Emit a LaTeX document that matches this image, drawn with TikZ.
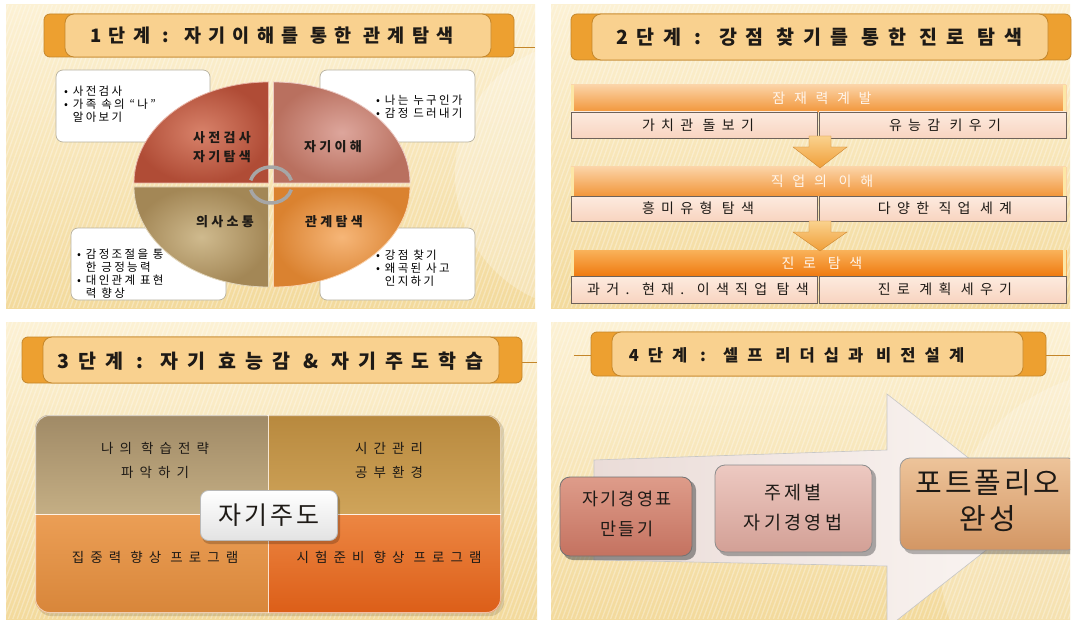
\documentclass[tikz,border=0pt]{standalone}
\usepackage{fontspec}
\setmainfont{Noto Sans CJK KR}
\usetikzlibrary{calc}
\definecolor{bgA}{HTML}{FCF1D4}
\definecolor{bgB}{HTML}{F3DA9C}
\definecolor{tabor}{HTML}{EDA030}
\definecolor{tabbd}{HTML}{C4862A}
\definecolor{ttlin}{HTML}{F9D18F}
\definecolor{txt}{HTML}{1E1A16}
\definecolor{notebd}{HTML}{B8B2A0}
\definecolor{qTLa}{HTML}{D8826A}\definecolor{qTLb}{HTML}{B04C36}
\definecolor{qTRa}{HTML}{DDA69C}\definecolor{qTRb}{HTML}{B9705F}
\definecolor{qBLa}{HTML}{CFBA8E}\definecolor{qBLb}{HTML}{A38756}
\definecolor{qBRa}{HTML}{F6B678}\definecolor{qBRb}{HTML}{DA8230}
\definecolor{hdA}{HTML}{FBD3A6}\definecolor{hdB}{HTML}{F2963A}
\definecolor{hdCa}{HTML}{F9B25A}\definecolor{hdCb}{HTML}{EF7A10}
\definecolor{hdedge}{HTML}{FCE7A6}
\definecolor{cellA}{HTML}{FDEBDF}\definecolor{cellB}{HTML}{F8D4C0}
\definecolor{cellbd}{HTML}{6E625A}
\definecolor{arA}{HTML}{FAD28E}\definecolor{arB}{HTML}{F09E38}
\definecolor{pTLa}{HTML}{A08A66}\definecolor{pTLb}{HTML}{C4AE84}
\definecolor{pTRa}{HTML}{B8893E}\definecolor{pTRb}{HTML}{CFA45A}
\definecolor{pBLa}{HTML}{EB9E55}\definecolor{pBLb}{HTML}{D8863A}
\definecolor{pBRa}{HTML}{EC8642}\definecolor{pBRb}{HTML}{DC5E18}
\definecolor{bxAa}{HTML}{DE9C8A}\definecolor{bxAb}{HTML}{C47260}
\definecolor{bxBa}{HTML}{EDC9C1}\definecolor{bxBb}{HTML}{D3A096}
\definecolor{bxCa}{HTML}{EDC49A}\definecolor{bxCb}{HTML}{D39664}
\definecolor{arwA}{HTML}{EADCD8}\definecolor{arwB}{HTML}{FBF6F3}

\newcommand{\panelbg}[4]{%
  \begin{scope}
    \clip (#1,#2) rectangle (#3,#4);
    \shade[top color=bgA, bottom color=bgB] (#1,#2) rectangle (#3,#4);
    \foreach \i in {0,...,190} {\draw[white, opacity=0.3, line width=1.3pt] (#1-200+\i*4.4,#4) -- ++(110,#2-#4);}
  \end{scope}}
\newcommand{\ttlbar}[4]{%
  \draw[fill=tabor,draw=tabbd,line width=0.8pt,rounded corners=6pt] (#1,#3) rectangle (#2,#4);
  \draw[fill=ttlin,draw=tabbd,line width=0.8pt,rounded corners=9pt] (#1+21,#3) rectangle (#2-23,#4);}
\newcommand{\hdr}[4]{%
  \shadedraw[top color=#3, bottom color=#4, draw=#3, line width=0.6pt] (571,#1) rectangle (1066,#2);
  \fill[hdedge] (571,#1) rectangle (574,#2);
  \fill[hdedge] (1063,#1) rectangle (1066,#2);}
\newcommand{\cells}[2]{%
  \shadedraw[cellbox] (571,#1) rectangle (817,#2);
  \shadedraw[cellbox] (819,#1) rectangle (1066,#2);}
\newcommand{\darr}[2]{%
  \shadedraw[top color=arA,bottom color=arB,draw=arB!85!black,line width=0.4pt]
   (809,#1) -- (831,#1) -- (831,#1+11) -- (847,#1+11) -- (820,#2) -- (793,#1+11) -- (809,#1+11) -- cycle;}

\begin{document}
\begin{tikzpicture}[x=1pt,y=-1pt,
  ttl/.style={inner sep=0pt,text=txt,font=\fontsize{18.5}{21}\selectfont\bfseries\addfontfeatures{LetterSpace=40}},
  ttlb/.style={inner sep=0pt,text=txt,font=\fontsize{19.5}{22}\selectfont\bfseries\addfontfeatures{LetterSpace=45}},
  ttlc/.style={inner sep=0pt,text=txt,font=\fontsize{16.5}{19}\selectfont\bfseries\addfontfeatures{LetterSpace=55}},
  note/.style={draw=notebd,fill=white,rounded corners=7pt,line width=0.7pt},
  bul/.style={inner sep=0pt,anchor=north west,align=left,text=black,font=\fontsize{11.5}{12.8}\selectfont\addfontfeatures{LetterSpace=20}},
  qlab/.style={inner sep=0pt,align=center,text=txt,font=\fontsize{13}{19}\selectfont\bfseries\addfontfeatures{LetterSpace=25}},
  hdt/.style={inner sep=0pt,text=white!92!orange,font=\fontsize{14}{16}\selectfont\addfontfeatures{LetterSpace=62}},
  cellt/.style={inner sep=0pt,text=txt,font=\fontsize{14}{16}\selectfont\addfontfeatures{LetterSpace=45}},
  cellbox/.style={top color=cellA,bottom color=cellB,draw=cellbd,line width=0.8pt},
  plab/.style={inner sep=0pt,align=center,text=txt,font=\fontsize{13.5}{24}\selectfont\addfontfeatures{LetterSpace=45}},
  blab/.style={inner sep=0pt,align=center,text=txt},
]
\useasboundingbox (0,0) rectangle (1074,623);
\fill[white] (0,0) rectangle (1074,623);

% ================= PANEL 1
\panelbg{6}{5}{535}{308}
\begin{scope}\clip (6,5) rectangle (535,308);
  \fill[white,opacity=0.25] (590,175) circle (135);
\end{scope}
\ttlbar{44}{514}{14}{57}
\draw[tabbd,line width=0.8pt] (514,47) -- (535,47);
\node[ttl] (t1) at (272,36) {1단계 : 자기이해를 통한 관계탐색};

\draw[note] (56,70) rectangle (210,142);
\node[bul] (b1) at (64,86) {• 사전검사\\• 가족 속의 “나”\\\phantom{• }알아보기};
\draw[note] (320,70) rectangle (475,142);
\node[bul] (b2) at (376,95) {• 나는 누구인가\\• 감정 드러내기};
\draw[note] (71,228) rectangle (226,300);
\node[bul] (b3) at (77,249) {• 감정조절을 통\\\phantom{• }한 긍정능력\\• 대인관계 표현\\\phantom{• }력 향상};
\draw[note] (320,228) rectangle (475,300);
\node[bul] (b4) at (376,250) {• 강점 찾기\\• 왜곡된 사고\\\phantom{• }인지하기};

\shadedraw[inner color=qTLa,outer color=qTLb,draw=qTLa!60!white,line width=0.8pt]
  (268.5,183) -- ++(-134.5,0) arc[start angle=180,end angle=270,x radius=134.5,y radius=101] -- cycle;
\shadedraw[inner color=qTRa,outer color=qTRb,draw=qTRa!60!white,line width=0.8pt]
  (273.5,183) -- ++(0,-101) arc[start angle=270,end angle=360,x radius=136.5,y radius=101] -- cycle;
\shadedraw[inner color=qBRa,outer color=qBRb,draw=qBRa!60!white,line width=0.8pt]
  (273.5,187) -- ++(136.5,0) arc[start angle=0,end angle=90,x radius=136.5,y radius=100] -- cycle;
\shadedraw[inner color=qBLa,outer color=qBLb,draw=qBLa!60!white,line width=0.8pt]
  (268.5,187) -- ++(0,100) arc[start angle=90,end angle=180,x radius=134.5,y radius=100] -- cycle;

\draw[gray!70,line width=3.5pt] (271,185) ++(-165:21 and 18) arc[start angle=-165,end angle=-15,x radius=21,y radius=18];
\draw[gray!70,line width=3.5pt] (271,185) ++(165:21 and 18) arc[start angle=165,end angle=15,x radius=21,y radius=18];

\node[qlab] (q1) at (222,147) {사전검사\\자기탐색};
\node[qlab] (q2) at (333,147) {자기이해};
\node[qlab] (q3) at (225,222) {의사소통};
\node[qlab] (q4) at (334,222) {관계탐색};

% ================= PANEL 2
\panelbg{551}{5}{1070}{308}
\ttlbar{571}{1071}{14}{60}
\node[ttlb] (t2) at (819,37) {2단계 : 강점 찾기를 통한 진로 탐색};

\hdr{85}{112}{hdA}{hdB}
\cells{112}{138}
\hdr{167}{196}{hdA}{hdB}
\cells{196}{221}
\hdr{250}{276}{hdCa}{hdCb}
\cells{276}{303}
\darr{136}{168}
\darr{221}{251}

\node[hdt] (h1) at (822,98.5) {잠재력계발};
\node[hdt] (h2) at (822,181.5) {직업의 이해};
\node[hdt] (h3) at (822,263) {진로 탐색};
\node[cellt] (c1) at (698,125) {가치관 돌보기};
\node[cellt] (c2) at (945,125) {유능감 키우기};
\node[cellt] (c3) at (698,208.5) {흥미유형 탐색};
\node[cellt] (c4) at (945,208.5) {다양한 직업 세계};
\node[cellt] (c5) at (698,289.5) {과거. 현재. 이색직업 탐색};
\node[cellt] (c6) at (945,289.5) {진로 계획 세우기};

% ================= PANEL 3
\panelbg{6}{322}{537}{619}
\ttlbar{22}{522}{337}{383}
\draw[tabbd,line width=0.8pt] (522,362) -- (537,362);
\node[ttlb] (t3) at (270.5,361) {3단계 : 자기 효능감 \& 자기주도학습};

\fill[black,opacity=0.12,rounded corners=14pt] (37,418) rectangle (504,616);
\fill[white!90!orange,rounded corners=14pt] (35,415) rectangle (501,613);
\begin{scope}
  \clip[rounded corners=14pt] (35,415) rectangle (501,613);
  \shade[top color=pTLa,bottom color=pTLb] (35,415) rectangle (267.3,513.8);
  \shade[top color=pTRa,bottom color=pTRb] (268.8,415) rectangle (501,513.8);
  \shade[top color=pBLa,bottom color=pBLb] (35,515.3) rectangle (267.3,613);
  \shade[top color=pBRa,bottom color=pBRb] (268.8,515.3) rectangle (501,613);
\end{scope}
\draw[white,opacity=0.6,line width=1pt,rounded corners=14pt] (35.5,415.5) rectangle (500.5,612.5);

\node[plab] (l1) at (155,460) {나의 학습전략\\파악하기};
\node[plab] (l2) at (389,460) {시간관리\\공부환경};
\node[plab] (l3) at (155,557) {집중력 향상 프로그램};
\node[plab] (l4) at (389,557) {시험준비 향상 프로그램};

\fill[black,opacity=0.2,rounded corners=8pt] (202,493) rectangle (340,544);
\node[draw=gray!55,top color=white,bottom color=gray!22,rounded corners=8pt,line width=0.8pt,
  minimum width=137,minimum height=50,inner sep=0pt,text=txt,
  font=\fontsize{25}{28}\selectfont\addfontfeatures{LetterSpace=12}] (sd) at (269,515.5) {자기주도};

% ================= PANEL 4
\panelbg{551}{322}{1070}{619}
\begin{scope}\clip (551,322) rectangle (1070,619);
  \fill[white,opacity=0.2] (1130,560) circle (190);
\end{scope}
\ttlbar{591}{1046}{332}{376}
\draw[tabbd,line width=0.8pt] (574,355) -- (591,355);
\draw[tabbd,line width=0.8pt] (1046,355) -- (1070,355);
\node[ttlc] (t4) at (796.5,355) {4단계 : 셀프 리더십과 비전설계};

\begin{scope}\clip (551,322) rectangle (1070,619);
  \shadedraw[left color=arwA,right color=arwB,draw=gray!45,line width=0.6pt]
    (594,460) -- (887,450) -- (887,394) -- (1036,511) -- (887,628) -- (887,566) -- (594,560) -- cycle;
  \fill[black!70,opacity=0.55,rounded corners=10pt] (563,480) rectangle (696,560);
  \shadedraw[top color=bxAa,bottom color=bxAb,draw=black!55,line width=0.8pt,rounded corners=10pt] (560,477) rectangle (692,556);
  \fill[black!70,opacity=0.45,rounded corners=10pt] (718,468) rectangle (876,556);
  \shadedraw[top color=bxBa,bottom color=bxBb,draw=black!45,line width=0.8pt,rounded corners=10pt] (715,465) rectangle (872,552);
  \fill[black!70,opacity=0.4,rounded corners=10pt] (903,461) rectangle (1082,554);
  \shadedraw[top color=bxCa,bottom color=bxCb,draw=black!40,line width=0.8pt,rounded corners=10pt] (900,458) rectangle (1078,550);
\end{scope}
\node[blab,font=\fontsize{17.5}{30}\selectfont\addfontfeatures{LetterSpace=12}] (ba) at (627,514) {자기경영표\\만들기};
\node[blab,font=\fontsize{18.5}{30}\selectfont\addfontfeatures{LetterSpace=18}] (bb) at (793,508) {주제별\\자기경영법};
\node[blab,font=\fontsize{29}{36}\selectfont\addfontfeatures{LetterSpace=10}] (bc) at (988,501) {포트폴리오\\완성};
\end{tikzpicture}
\end{document}
